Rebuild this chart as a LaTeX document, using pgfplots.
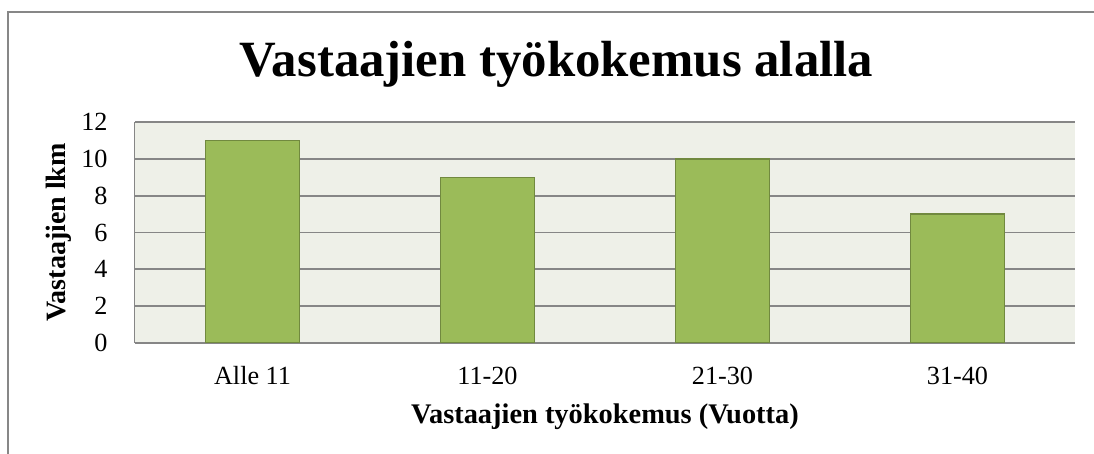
\documentclass[border=0pt]{standalone}
\usepackage{fontspec}
\setmainfont{Liberation Serif}
\usepackage{pgfplots}
\pgfplotsset{compat=1.18}

\definecolor{plotbg}{RGB}{238,240,232}
\definecolor{gridgray}{RGB}{134,134,134}
\definecolor{barfill}{RGB}{155,187,89}
\definecolor{baredge}{RGB}{113,137,63}
\definecolor{framegray}{RGB}{135,135,135}

\begin{document}
\begin{tikzpicture}
    % 1 px of the reference = 0.5pt
    \useasboundingbox (0,0) rectangle (547pt,-227pt);
    \draw[framegray, line width=0.75pt] (4pt,-227pt) -- (4pt,-6pt) -- (547pt,-6pt);

    \begin{axis}[
        at={(67.5pt,-171.5pt)}, anchor=south west,
        scale only axis,
        width=470pt, height=110.5pt,
        xmin=-0.5, xmax=3.5,
        ymin=0, ymax=12,
        ytick={0,2,...,12},
        xtick=data,
        xticklabels={Alle 11, 11-20, 21-30, 31-40},
        major tick length=0pt,
        axis x line*=bottom, axis y line*=left,
        axis line style={-},
        x axis line style={gridgray, line width=1pt},
        y axis line style={gridgray, line width=0.5pt},
        ymajorgrids,
        major grid style={gridgray, line width=0.9pt},
        axis background/.style={fill=plotbg},
        /pgf/number format/assume math mode=true,
        ticklabel style={font=\fontsize{13.1}{15}\selectfont},
        yticklabel style={anchor=east, inner sep=0pt, xshift=-13.5pt},
        xticklabel style={anchor=base, yshift=-21pt},
        title={Vastaajien työkokemus alalla},
        title style={at={(0.4484,1.152)}, anchor=base, font=\fontsize{25.4}{30}\selectfont\bfseries},
        xlabel={Vastaajien työkokemus (Vuotta)},
        xlabel style={at={(0.5,-0.362)}, anchor=base, font=\fontsize{14.2}{17}\selectfont\bfseries},
        ylabel={Vastaajien lkm},
        ylabel style={at={(-0.0809,0.5)}, anchor=center, rotate=0, font=\fontsize{14}{17}\selectfont\bfseries},
    ]
    \addplot[ybar, bar width=0.4, fill=barfill, draw=baredge, line width=0.75pt]
        coordinates {(0,11) (1,9) (2,10) (3,7)};
    \end{axis}
\end{tikzpicture}
\end{document}
